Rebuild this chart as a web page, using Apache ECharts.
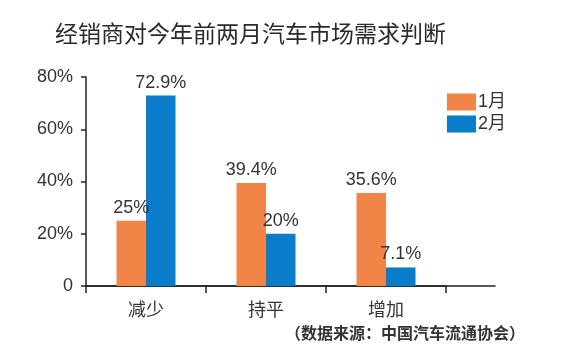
<!DOCTYPE html>
<html><head><meta charset="utf-8">
<script src="https://cdn.jsdelivr.net/npm/echarts@6/dist/echarts.min.js"></script>
<style>html,body{margin:0;padding:0;background:#fff}#c{width:570px;height:359px}</style>
</head><body><div id="c"></div>
<script>
const titleText = '经销商对今年前两月汽车市场需求判断';
const sourceText = '（数据来源：中国汽车流通协会）';
const categories = ['减少', '持平', '增加'];
const seriesNames = ['1月', '2月'];
const janValues = [25, 39.4, 35.6];
const febValues = [72.9, 20, 7.1];
const yTicks = [0, 20, 40, 60, 80];

const FONT = '"Liberation Sans", "Noto Sans CJK SC", sans-serif';
const chart = echarts.init(document.getElementById('c'), null, {renderer: 'canvas'});
const labelFmt = p => p.value + '%';
chart.setOption({
  animation: false,
  backgroundColor: '#fff',
  title: [
    {text: titleText, left: 50, top: 19,
     textStyle: {fontFamily: FONT, fontSize: 23, fontWeight: 'normal', color: '#2a2a2a'}},
    {text: sourceText, right: 40, top: 322,
     textStyle: {fontFamily: FONT, fontSize: 16, fontWeight: 'bold', color: '#333'}}
  ],
  legend: {
    orient: 'vertical', left: 442, top: 88, itemWidth: 29, itemHeight: 17, itemGap: 4,
    icon: 'rect', data: seriesNames,
    textStyle: {fontFamily: FONT, fontSize: 18, color: '#333', padding: [0, 0, 0, -3]}
  },
  grid: [
    {left: 86, width: 360, top: 77, height: 209},
    {left: 86, width: 409, top: 77, height: 209}
  ],
  xAxis: [
    {type: 'category', gridIndex: 0, data: categories,
     axisLine: {lineStyle: {color: '#222', width: 1.5}},
     axisTick: {show: true, length: 7, lineStyle: {color: '#222', width: 1.5}},
     axisLabel: {fontFamily: FONT, fontSize: 18, color: '#333', margin: 16}},
    {type: 'value', gridIndex: 1, min: 0, max: 1, show: true,
     axisLine: {show: true, lineStyle: {color: '#222', width: 1.5}},
     axisTick: {show: false}, axisLabel: {show: false}, splitLine: {show: false}}
  ],
  yAxis: [
    {type: 'value', gridIndex: 0, min: yTicks[0], max: yTicks[yTicks.length - 1], interval: 20,
     axisLine: {show: true, lineStyle: {color: '#222', width: 1.5}},
     axisTick: {show: true, length: 5, lineStyle: {color: '#222', width: 1.5}},
     splitLine: {show: false},
     axisLabel: {fontFamily: FONT, fontSize: 18, color: '#333', margin: 13,
       formatter: v => v === 0 ? '0' : v + '%'}},
    {type: 'value', gridIndex: 1, show: false, min: 0, max: 1}
  ],
  series: [
    {name: seriesNames[0], type: 'bar', data: janValues, barWidth: 29.5, barGap: '0%',
     itemStyle: {color: '#F08547'},
     label: {show: true, position: 'top', distance: 4, formatter: labelFmt,
       fontFamily: FONT, fontSize: 18, color: '#333'}},
    {name: seriesNames[1], type: 'bar', data: febValues, barWidth: 29.5, barGap: '0%',
     itemStyle: {color: '#0A7DCA'},
     label: {show: true, position: 'top', distance: 4, formatter: labelFmt,
       fontFamily: FONT, fontSize: 18, color: '#333'}}
  ]
});
</script></body></html>
